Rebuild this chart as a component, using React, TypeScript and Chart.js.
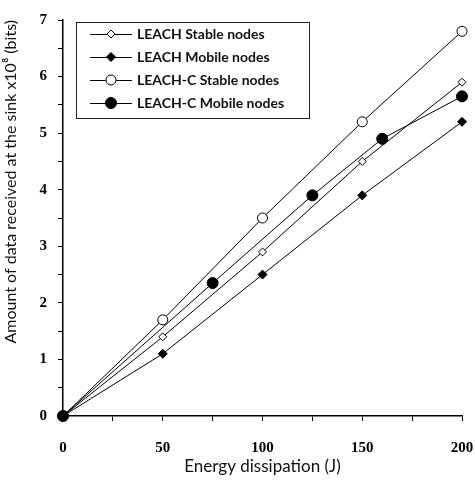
import React, { useEffect, useRef } from "react";
import { Chart, registerables } from "chart.js";

Chart.register(...registerables);

const xStandard = [0, 50, 100, 150, 200];
const leachStable = [0, 1.4, 2.9, 4.5, 5.9];
const leachMobile = [0, 1.1, 2.5, 3.9, 5.2];
const leachCStable = [0, 1.7, 3.5, 5.2, 6.8];
const xLeachCMobile = [0, 75, 125, 160, 200];
const leachCMobile = [0, 2.35, 3.9, 4.9, 5.65];
const seriesNames = [
  "LEACH Stable nodes",
  "LEACH Mobile nodes",
  "LEACH-C Stable nodes",
  "LEACH-C Mobile nodes",
];

const toPts = (xs: number[], ys: number[]) => xs.map((x, i) => ({ x, y: ys[i] }));

const insideLegend = {
  id: "insideLegend",
  afterDatasetsDraw(chart: any) {
    const ctx = chart.ctx;
    const order = [0, 1, 2, 3];
    const bx = 76, by = 22, bw = 233, bh = 96;
    ctx.save();
    ctx.fillStyle = "#fff";
    ctx.fillRect(bx, by, bw, bh);
    ctx.strokeStyle = "#222";
    ctx.lineWidth = 1;
    ctx.strokeRect(bx + 0.5, by + 0.5, bw, bh);
    order.forEach((di, i) => {
      const ds = chart.data.datasets.find((d: any) => d.legendIndex === di);
      const y = 34 + i * 23;
      ctx.strokeStyle = "#000";
      ctx.lineWidth = 1;
      ctx.beginPath();
      ctx.moveTo(90, y + 0.5);
      ctx.lineTo(132, y + 0.5);
      ctx.stroke();
      const r = ds.pointRadius;
      ctx.beginPath();
      if (ds.pointStyle === "rectRot") {
        ctx.moveTo(111, y - r);
        ctx.lineTo(111 + r, y);
        ctx.lineTo(111, y + r);
        ctx.lineTo(111 - r, y);
        ctx.closePath();
      } else {
        ctx.arc(111, y, r, 0, Math.PI * 2);
      }
      ctx.fillStyle = ds.pointBackgroundColor;
      ctx.fill();
      ctx.strokeStyle = "#000";
      ctx.stroke();
      ctx.fillStyle = "#111";
      ctx.font = "bold 14px Lato";
      ctx.textBaseline = "middle";
      ctx.textAlign = "left";
      ctx.fillText(ds.label, 137, y);
    });
    ctx.restore();
  },
};

export default function App() {
  const ref = useRef<HTMLCanvasElement>(null);
  useEffect(() => {
    document.body.style.margin = "0";
    const lineCommon = {
      borderColor: "#000",
      borderWidth: 1,
      pointBorderColor: "#000",
      pointBorderWidth: 1,
      tension: 0,
      fill: false,
      clip: false,
    };
    const chart = new Chart(ref.current!, {
      type: "line",
      data: {
        datasets: [
          {
            ...lineCommon,
            legendIndex: 3,
            label: seriesNames[3],
            data: toPts(xLeachCMobile, leachCMobile),
            pointStyle: "circle",
            pointRadius: 5.5,
            pointBackgroundColor: "#000",
          },
          {
            ...lineCommon,
            legendIndex: 1,
            label: seriesNames[1],
            data: toPts(xStandard, leachMobile),
            pointStyle: "rectRot",
            pointRadius: 4.5,
            pointBackgroundColor: "#000",
          },
          {
            ...lineCommon,
            legendIndex: 0,
            label: seriesNames[0],
            data: toPts(xStandard, leachStable),
            pointStyle: "rectRot",
            pointRadius: 4,
            pointBackgroundColor: "#fff",
          },
          {
            ...lineCommon,
            legendIndex: 2,
            label: seriesNames[2],
            data: toPts(xStandard, leachCStable),
            pointStyle: "circle",
            pointRadius: 5,
            pointBackgroundColor: "#fff",
          },
        ] as any,
      },
      options: {
        animation: false,
        responsive: false,
        maintainAspectRatio: false,
        layout: { padding: { top: 14, right: 0, left: 0, bottom: 0 } },
        plugins: { legend: { display: false }, tooltip: { enabled: false } },
        scales: {
          x: {
            type: "linear",
            min: 0,
            max: 200,
            afterFit: (s: any) => {
              s.height = 64;
              s.paddingRight = 13;
              s.paddingLeft = 0;
            },
            border: { color: "#000", width: 1.5 },
            grid: {
              display: true,
              drawOnChartArea: false,
              drawTicks: true,
              tickLength: 5,
              tickColor: "#000",
            },
            ticks: {
              stepSize: 25,
              autoSkip: false,
              maxRotation: 0,
              padding: 18,
              color: "#000",
              font: { family: "Liberation Serif", size: 15, weight: "bold" },
              callback: (v: any) => (Number(v) % 50 === 0 ? String(v) : ""),
            },
            title: {
              display: true,
              text: "Energy dissipation (J)",
              color: "#111",
              font: { family: "Lato", size: 17 },
              padding: { top: 0, bottom: 3 },
            },
          },
          y: {
            type: "linear",
            min: 0,
            max: 7,
            afterFit: (s: any) => {
              s.width = 63;
            },
            border: { color: "#000", width: 1.5 },
            grid: {
              display: true,
              drawOnChartArea: false,
              drawTicks: true,
              tickLength: 5,
              tickColor: "#000",
            },
            ticks: {
              stepSize: 0.5,
              autoSkip: false,
              padding: 11,
              color: "#000",
              font: { family: "Liberation Serif", size: 15, weight: "bold" },
              callback: (v: any) => (Number.isInteger(Number(v)) ? String(v) : ""),
            },
            title: {
              display: true,
              align: "end",
              text: "Amount of data received at the sink x10⁸ (bits)",
              color: "#111",
              font: { family: "Lato", size: 16 },
              padding: { top: 1, bottom: 0 },
            },
          },
        },
      } as any,
      plugins: [insideLegend],
    });
    return () => chart.destroy();
  }, []);
  return (
    <div style={{ width: 475, height: 480 }}>
      <canvas ref={ref} width={475} height={480} style={{ width: 475, height: 480 }} />
    </div>
  );
}
